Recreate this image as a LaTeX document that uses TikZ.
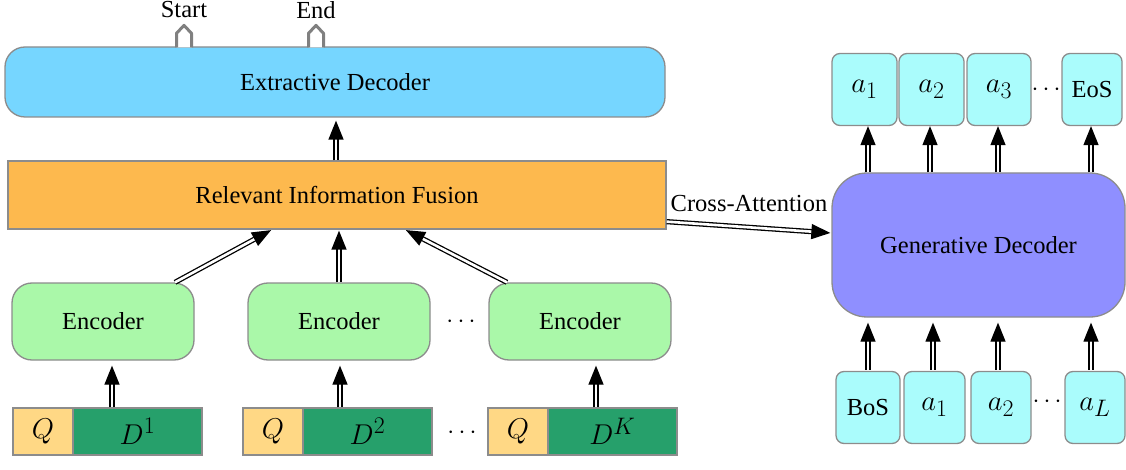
\documentclass[tikz,border=0pt]{standalone}
\usepackage[no-math]{fontspec}
\setmainfont{Liberation Serif}
\usetikzlibrary{arrows.meta,calc}
\definecolor{extblue}{HTML}{76D6FF}
\definecolor{fusorange}{HTML}{FDB94E}
\definecolor{encgreen}{HTML}{AAF8A9}
\definecolor{qyellow}{HTML}{FFD885}
\definecolor{dgreen}{HTML}{26A06B}
\definecolor{genpurple}{HTML}{8F8FFF}
\definecolor{tokcyan}{HTML}{AAFCFC}
\definecolor{bordergray}{HTML}{8C8C8C}
\newcommand{\mth}[1]{\scalebox{1.15}{$#1$}}
\tikzset{
  base/.style={draw=bordergray, line width=1.3pt, inner sep=0pt, font=\fontsize{24.5}{28}\selectfont},
  mathf/.style={font=\fontsize{24.88}{28}\selectfont},
  extbox/.style={base, fill=extblue, rounded corners=20pt},
  fusbox/.style={base, fill=fusorange},
  encbox/.style={base, fill=encgreen, rounded corners=20pt, minimum width=182pt, minimum height=77pt},
  qbox/.style={base, mathf, fill=qyellow, minimum width=60pt, minimum height=47pt},
  dbox/.style={base, mathf, fill=dgreen, minimum width=129pt, minimum height=47pt},
  genbox/.style={base, fill=genpurple, rounded corners=35pt},
  tokbox/.style={base, fill=tokcyan, rounded corners=8pt, minimum height=72pt},
  lbl/.style={inner sep=0pt, font=\fontsize{24.5}{28}\selectfont},
  darr/.style={draw=black, line width=1.3pt, double=white, double distance=2.6pt,
    -{Triangle[length=19pt,width=15pt]}},
  house/.style={draw=gray, line width=3pt, fill=white, line join=round},
}
\begin{document}
\begin{tikzpicture}[x=1pt,y=-1pt]
\useasboundingbox (0,0) rectangle (1126,470);
% extractive decoder
\node[extbox, minimum width=660pt, minimum height=70pt] (ext) at (335,82) {Extractive Decoder};
\node[lbl] (start) at (184,10) {Start};
\node[lbl] (end) at (316,10) {End};
\path[house] ([xshift=-158.5pt,yshift=-1pt]ext.north) -- ++(0,-14) -- ++(7.5,-8) -- ++(7.5,8) -- ++(0,14);
\path[house] ([xshift=-26.5pt,yshift=-1pt]ext.north) -- ++(0,-14) -- ++(7.5,-8) -- ++(7.5,8) -- ++(0,14);
% fusion
\node[fusbox, minimum width=658pt, minimum height=68pt] (fus) at (337,195) {Relevant Information Fusion};
\draw[darr, shorten >=3pt] ([xshift=-1pt]fus.north) -- ([xshift=-1pt]fus.north |- ext.south);
% encoders
\node[encbox] (enc1) at (103,321.5) {Encoder};
\node[encbox] (enc2) at (339,321.5) {Encoder};
\node[encbox] (enc3) at (580,321.5) {Encoder};
\node[lbl] (edots) at (461,322) {$\cdots$};
\draw[darr, shorten >=1pt] ([xshift=72pt]enc1.north) -- ([xshift=-65pt]fus.south);
\draw[darr, shorten >=1pt] (enc2.north) -- (enc2.north |- fus.south);
\draw[darr, shorten >=1pt] ([xshift=-73pt]enc3.north) -- ([xshift=68pt]fus.south);
% inputs
\node[qbox] (q1) at (43,431.5) {\mth{Q}};
\node[dbox] (d1) at (137.5,431.5) {\mth{D^1}};
\node[qbox] (q2) at (273,431.5) {\mth{Q}};
\node[dbox] (d2) at (367.5,431.5) {\mth{D^2}};
\node[qbox] (q3) at (518,431.5) {\mth{Q}};
\node[dbox] (d3) at (612.5,431.5) {\mth{D^K}};
\node[lbl] (bdots) at (462,433) {$\cdots$};
\draw[darr, shorten >=5pt] ([xshift=-25.5pt]d1.north) -- ([xshift=-25.5pt]d1.north |- enc1.south);
\draw[darr, shorten >=5pt] ([xshift=-27.5pt]d2.north) -- ([xshift=-27.5pt]d2.north |- enc2.south);
\draw[darr, shorten >=5pt] ([xshift=-16.5pt]d3.north) -- ([xshift=-16.5pt]d3.north |- enc3.south);
% generative decoder
\node[genbox, minimum width=293pt, minimum height=144pt] (gen) at (978.5,245) {Generative Decoder};
\draw[darr, shorten >=1pt] ([yshift=8pt]fus.south east) -- node[lbl, above=15pt, pos=0.5] (ca) {Cross-Attention} ([yshift=12pt]gen.west);
% output tokens
\node[tokbox, mathf, minimum width=65pt] (ta1) at (864.5,89.5) {\mth{a_1}};
\node[tokbox, mathf, minimum width=65pt] (ta2) at (931.5,89.5) {\mth{a_2}};
\node[tokbox, mathf, minimum width=64pt] (ta3) at (999,89.5) {\mth{a_3}};
\node[lbl] (tdots) at (1046,90) {$\cdots$};
\node[tokbox, minimum width=60pt] (teos) at (1092,89.5) {EoS};
\draw[darr] ([xshift=-110.5pt]gen.north) -- ([xshift=-110.5pt]gen.north |- ta1.south);
\draw[darr] ([xshift=-48.5pt]gen.north) -- ([xshift=-48.5pt]gen.north |- ta2.south);
\draw[darr] ([xshift=19.5pt]gen.north) -- ([xshift=19.5pt]gen.north |- ta3.south);
\draw[darr] ([xshift=112.5pt]gen.north) -- ([xshift=112.5pt]gen.north |- teos.south);
% input tokens
\node[tokbox, minimum width=64pt] (bbos) at (868,407.5) {BoS};
\node[tokbox, mathf, minimum width=61pt] (ba1) at (934.5,407.5) {\mth{a_1}};
\node[tokbox, mathf, minimum width=60pt] (ba2) at (1001,407.5) {\mth{a_2}};
\node[lbl] (bdots2) at (1047,402) {$\cdots$};
\node[tokbox, mathf, minimum width=60pt] (baL) at (1095,407.5) {\mth{a_L}};
\draw[darr, shorten >=5pt] ([yshift=1pt]bbos.north) -- (bbos.north |- gen.south);
\draw[darr, shorten >=5pt] ([xshift=-1.5pt,yshift=1pt]ba1.north) -- ([xshift=-1.5pt]ba1.north |- gen.south);
\draw[darr, shorten >=5pt] ([xshift=-3pt,yshift=1pt]ba2.north) -- ([xshift=-3pt]ba2.north |- gen.south);
\draw[darr, shorten >=5pt] ([xshift=-4pt,yshift=1pt]baL.north) -- ([xshift=-4pt]baL.north |- gen.south);
\end{tikzpicture}
\end{document}
